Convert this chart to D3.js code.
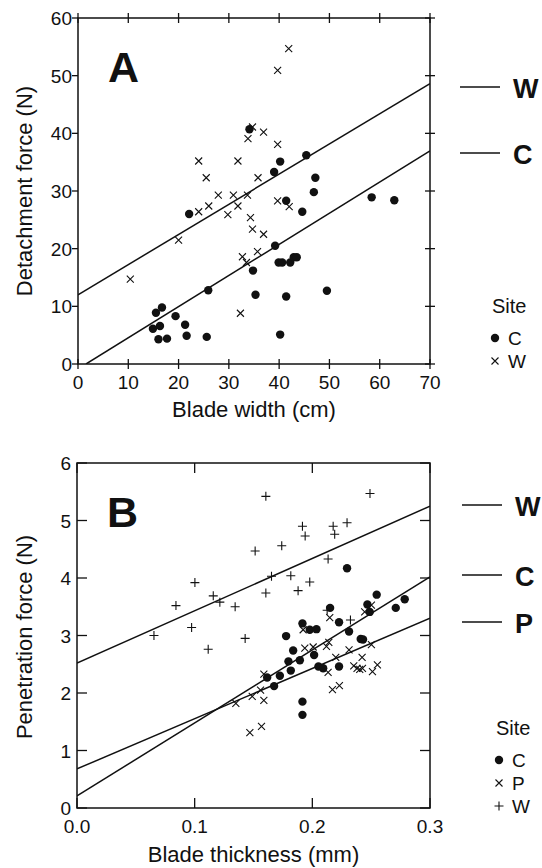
<!DOCTYPE html>
<html>
<head>
<meta charset="utf-8">
<script src="https://cdn.jsdelivr.net/npm/d3@7"></script>
<style>
  body { margin: 0; background: #fff; }
  text { font-family: "Liberation Sans", Arial, Helvetica, sans-serif; fill: #111; }
</style>
</head>
<body>
<svg id="chart" width="542" height="868"></svg>
<script>
// ---- Panel A: detachment force vs blade width ----
const aSiteC = [
  [14.9, 6.1], [15.5, 8.9], [16.0, 4.3], [16.3, 6.6], [16.7, 9.8], [17.7, 4.4],
  [19.4, 8.3], [21.3, 6.8], [21.6, 4.9], [22.1, 26.0], [25.6, 4.7], [25.9, 12.8],
  [34.1, 40.7], [34.8, 16.2], [35.3, 12.0], [39.0, 33.3], [39.2, 20.5], [39.9, 17.6],
  [40.6, 17.6], [40.2, 35.1], [40.2, 5.1], [41.4, 28.3], [41.4, 11.7], [42.2, 17.6],
  [42.9, 18.5], [43.5, 18.5], [44.6, 26.4], [45.4, 36.2], [46.9, 29.8], [47.2, 32.3],
  [49.5, 12.7], [58.4, 28.9], [62.9, 28.4]
];
const aSiteW = [
  [10.4, 14.7], [20.0, 21.5], [24.0, 35.2], [24.0, 26.4], [25.5, 32.3], [26.0, 27.4],
  [27.9, 29.3], [29.8, 25.9], [30.9, 29.3], [31.8, 35.2], [31.8, 27.4], [32.3, 8.8],
  [32.7, 18.6], [33.5, 17.6], [33.7, 29.3], [33.8, 39.1], [34.3, 25.4], [34.7, 41.1],
  [34.7, 23.4], [35.7, 19.5], [35.8, 32.3], [36.9, 40.2], [36.9, 22.5], [39.7, 50.9],
  [39.7, 38.1], [39.7, 28.3], [41.9, 54.7], [42.0, 27.3]
];
// regression fits: [label, intercept, slope, xStart]
const aFits = [["W", 12.0, 0.523, 0], ["C", -0.86, 0.54, 1.6]];
const aXTicks = [0, 10, 20, 30, 40, 50, 60, 70];
const aYTicks = [0, 10, 20, 30, 40, 50, 60];

// ---- Panel B: penetration force vs blade thickness ----
const bSiteC = [
  [0.1616, 2.27], [0.1675, 2.12], [0.1724, 2.30], [0.1777, 2.99], [0.1797, 2.55],
  [0.1817, 2.39], [0.1837, 2.74], [0.1894, 2.57], [0.1916, 3.21], [0.1916, 1.85],
  [0.1916, 1.62], [0.1978, 3.10], [0.2035, 3.11], [0.2015, 2.66], [0.2052, 2.46],
  [0.2092, 2.43], [0.2151, 3.48], [0.2227, 3.23], [0.2227, 2.46], [0.2295, 4.17],
  [0.2312, 3.07], [0.2411, 2.94], [0.2431, 2.93], [0.2468, 3.54], [0.2488, 3.41],
  [0.2547, 3.71], [0.2709, 3.48], [0.2785, 3.63]
];
const bSiteP = [
  [0.1350, 1.82], [0.1469, 1.31], [0.1489, 1.94], [0.1560, 2.05], [0.1568, 1.42],
  [0.1588, 1.87], [0.1588, 2.33], [0.1922, 3.10], [0.1936, 2.78], [0.2007, 2.80],
  [0.2120, 2.81], [0.2140, 2.88], [0.2148, 3.31], [0.2199, 2.62], [0.2134, 2.36],
  [0.2171, 2.06], [0.2230, 2.13], [0.2312, 2.75], [0.2423, 2.62], [0.2445, 3.41],
  [0.2502, 3.53], [0.2502, 2.84], [0.2352, 2.47], [0.2380, 2.43], [0.2403, 2.41],
  [0.2426, 2.43], [0.2511, 2.37], [0.2553, 2.49]
];
const bSiteW = [
  [0.0654, 3.00], [0.0841, 3.52], [0.0974, 3.14], [0.1002, 3.92], [0.1115, 2.76],
  [0.1158, 3.69], [0.1214, 3.58], [0.1344, 3.50], [0.1429, 2.95], [0.1514, 4.47],
  [0.1605, 5.42], [0.1605, 3.74], [0.1653, 4.03], [0.1740, 4.56], [0.1817, 4.04],
  [0.1879, 3.78], [0.1916, 4.90], [0.1939, 4.73], [0.1978, 3.93], [0.2134, 4.33],
  [0.2126, 3.44], [0.2177, 4.90], [0.2190, 4.76], [0.2295, 4.96], [0.2324, 3.27],
  [0.2490, 5.47]
];
const bFits = [["W", 2.52, 9.1, 0], ["C", 0.21, 12.7, 0], ["P", 0.68, 8.73, 0]];
const bXTicks = [0.0, 0.1, 0.2, 0.3];
const bYTicks = [0, 1, 2, 3, 4, 5, 6];

const svg = d3.select("#chart");

const CROSS = "M-3.5,-3.5L3.5,3.5M-3.5,3.5L3.5,-3.5";
const PLUS = "M-4.5,0H4.5M0,-4.5V4.5";

function marker(sel, kind) {
  if (kind == "dot") {
    sel.append("circle").attr("r", 4.2).attr("fill", "#111");
  } else {
    sel.append("path")
      .attr("d", kind == "cross" ? CROSS : PLUS)
      .attr("fill", "none")
      .attr("stroke", "#111")
      .attr("stroke-width", 1.1);
  }
}

function drawPanel(p) {
  const x = d3.scaleLinear().domain(p.xDomain).range([p.left, p.right]);
  const y = d3.scaleLinear().domain(p.yDomain).range([p.bottom, p.top]);
  const g = svg.append("g");

  // frame
  g.append("rect")
    .attr("x", p.left).attr("y", p.top)
    .attr("width", p.right - p.left).attr("height", p.bottom - p.top)
    .attr("fill", "none").attr("stroke", "#111").attr("stroke-width", 1.5);

  // ticks: t = [outward, inward] length
  const t = p.tickLen;
  const tickG = g.append("g").attr("stroke", "#111").attr("stroke-width", 1.3);
  p.xTicks.forEach((v) => {
    tickG.append("line").attr("x1", x(v)).attr("x2", x(v))
      .attr("y1", p.bottom + t.bottom[0]).attr("y2", p.bottom - t.bottom[1]);
    tickG.append("line").attr("x1", x(v)).attr("x2", x(v))
      .attr("y1", p.top - t.top[0]).attr("y2", p.top + t.top[1]);
  });
  p.yTicks.forEach((v) => {
    tickG.append("line").attr("y1", y(v)).attr("y2", y(v))
      .attr("x1", p.left - t.left[0]).attr("x2", p.left + t.left[1]);
    tickG.append("line").attr("y1", y(v)).attr("y2", y(v))
      .attr("x1", p.right + t.right[0]).attr("x2", p.right - t.right[1]);
  });

  // tick labels
  g.append("g").selectAll("text").data(p.xTicks).join("text")
    .attr("x", (d) => x(d)).attr("y", p.bottom + 25)
    .attr("text-anchor", "middle").attr("font-size", 19)
    .text(p.xFormat);
  g.append("g").selectAll("text").data(p.yTicks).join("text")
    .attr("x", p.left - 6).attr("y", (d) => y(d) + 7)
    .attr("text-anchor", "end").attr("font-size", 19)
    .text((d) => d);

  // axis titles
  g.append("text")
    .attr("x", (p.left + p.right) / 2).attr("y", p.bottom + p.xTitleDy)
    .attr("text-anchor", "middle").attr("font-size", 22)
    .text(p.xTitle);
  g.append("text")
    .attr("transform", `translate(32,${p.yTitleY}) rotate(-90)`)
    .attr("text-anchor", "middle").attr("font-size", 22)
    .text(p.yTitle);

  // panel letter
  g.append("text")
    .attr("x", p.left + 30).attr("y", p.top + p.letterDy)
    .attr("font-size", 43).attr("font-weight", "bold")
    .text(p.letter);

  // fitted lines, clipped to the frame
  const clipId = "clip" + p.letter;
  g.append("clipPath").attr("id", clipId).append("rect")
    .attr("x", p.left).attr("y", p.top)
    .attr("width", p.right - p.left).attr("height", p.bottom - p.top);
  g.append("g").attr("clip-path", `url(#${clipId})`)
    .selectAll("line").data(p.fits).join("line")
    .attr("x1", (d) => x(d[3])).attr("y1", (d) => y(d[1] + d[2] * d[3]))
    .attr("x2", x(p.xDomain[1])).attr("y2", (d) => y(d[1] + d[2] * p.xDomain[1]))
    .attr("stroke", "#111").attr("stroke-width", 1.5);

  // points
  p.series.forEach((s) => {
    g.append("g").selectAll("g").data(s.data).join("g")
      .attr("transform", (d) => `translate(${x(d[0])},${y(d[1])})`)
      .call(marker, s.kind);
  });

  // line legend (label at the right of the panel)
  p.fits.forEach((f, i) => {
    const ly = p.lineLegendY[i];
    g.append("line")
      .attr("x1", p.lineLegendX).attr("x2", p.lineLegendX + 40)
      .attr("y1", ly).attr("y2", ly)
      .attr("stroke", "#111").attr("stroke-width", 1.4);
    g.append("text")
      .attr("x", p.lineLegendX + 53).attr("y", ly + 11)
      .attr("font-size", 27).attr("font-weight", "bold")
      .text(f[0]);
  });

  // site legend
  g.append("text")
    .attr("x", p.siteX - 1).attr("y", p.siteY)
    .attr("font-size", 20).text("Site");
  p.series.forEach((s, i) => {
    const ly = p.siteY + 25 + i * 23;
    g.append("g").attr("transform", `translate(${p.siteX + 2},${ly})`)
      .call(marker, s.kind);
    g.append("text")
      .attr("x", p.siteX + 15).attr("y", ly + 6.5)
      .attr("font-size", 19).text(s.name);
  });
}

drawPanel({
  letter: "A",
  left: 78, right: 430, top: 18, bottom: 364,
  xDomain: [0, 70], yDomain: [0, 60],
  xTicks: aXTicks, yTicks: aYTicks,
  xFormat: (d) => d,
  tickLen: { bottom: [5, 5], top: [5, 5], left: [6, 0], right: [5, 5] },
  xTitle: "Blade width (cm)", xTitleDy: 53,
  yTitle: "Detachment force (N)", yTitleY: 191,
  letterDy: 64,
  fits: aFits,
  series: [
    { name: "C", kind: "dot", data: aSiteC },
    { name: "W", kind: "cross", data: aSiteW }
  ],
  lineLegendX: 460, lineLegendY: [87, 153],
  siteX: 493, siteY: 313
});

drawPanel({
  letter: "B",
  left: 77, right: 430, top: 463, bottom: 808,
  xDomain: [0, 0.3], yDomain: [0, 6],
  xTicks: bXTicks, yTicks: bYTicks,
  xFormat: d3.format(".1f"),
  tickLen: { bottom: [0, 10], top: [0, 10], left: [0, 10], right: [0, 10] },
  xTitle: "Blade thickness (mm)", xTitleDy: 54,
  yTitle: "Penetration force (N)", yTitleY: 637,
  letterDy: 64,
  fits: bFits,
  series: [
    { name: "C", kind: "dot", data: bSiteC },
    { name: "P", kind: "cross", data: bSiteP },
    { name: "W", kind: "plus", data: bSiteW }
  ],
  lineLegendX: 462, lineLegendY: [505, 575, 622],
  siteX: 497, siteY: 735
});
</script>
</body>
</html>
